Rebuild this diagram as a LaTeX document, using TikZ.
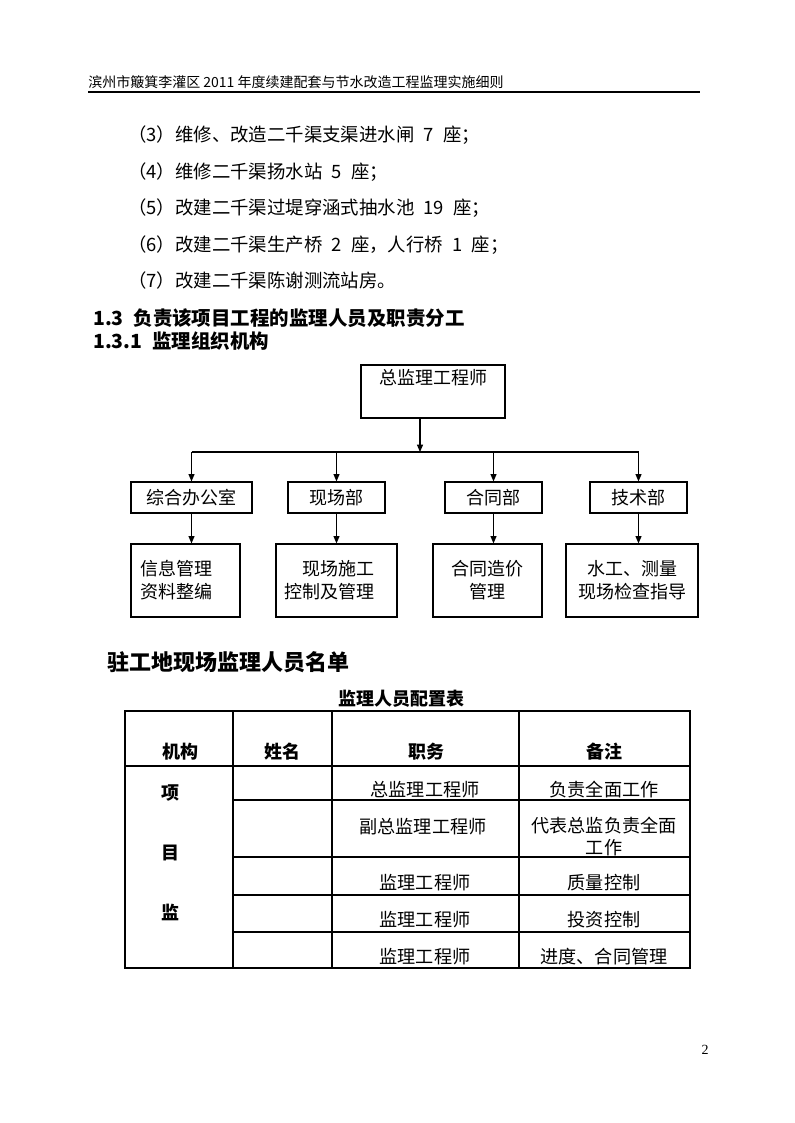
\documentclass[tikz,border=0pt]{standalone}
\usepackage{fontspec}
\setmainfont{Noto Sans CJK SC}
\newfontfamily\pnfont{Liberation Serif}
\usetikzlibrary{arrows.meta, positioning, calc}
\newdimen\pxu \pxu=0.75pt
\tikzset{
  txt/.style      = {inner sep=0pt, font=\fontsize{13.8}{16}\selectfont},
  bodyline/.style = {txt, anchor=west},
  hdline/.style   = {inner sep=0pt, anchor=west, font=\fontsize{14.6}{16}\selectfont\bfseries},
  orgbox/.style   = {draw, line width=0.9pt, inner sep=0pt, font=\fontsize{13.5}{17.25}\selectfont},
  orgarrow/.style = {-{Triangle[length=5.5pt, width=4.5pt]}, line width=0.8pt},
  tabline/.style  = {line width=0.8pt},
  thead/.style    = {inner sep=0pt, font=\fontsize{13.5}{16}\selectfont\bfseries},
  tcell/.style    = {inner sep=0pt, align=center, font=\fontsize{13.6}{16.5}\selectfont},
}

\begin{document}
\begin{tikzpicture}[x=0.75pt, y=-0.75pt]
  \useasboundingbox (0,0) rectangle (794,1123);
  % running head
  \node[inner sep=0pt, anchor=west, font=\fontsize{10.5}{12}\selectfont] (runhead) at (88,82)
    {滨州市簸箕李灌区 2011 年度续建配套与节水改造工程监理实施细则};
  \draw[line width=0.8pt] (88,92) -- (700,92);

  \foreach \y/\t [count=\i from 3] in {135/{（3）维修、改造二千渠支渠进水闸\enspace 7\enspace 座；},
      172/{（4）维修二千渠扬水站\enspace 5\enspace 座；},
      208/{（5）改建二千渠过堤穿涵式抽水池\enspace 19\enspace 座；},
      245/{（6）改建二千渠生产桥\enspace 2\enspace 座，人行桥\enspace 1\enspace 座；},
      281/{（7）改建二千渠陈谢测流站房。}}
    \node[bodyline] (item\i) at (128,\y) {\t};

  \node[hdline] (sec13) at (93,318) {1.3\enspace 负责该项目工程的监理人员及职责分工};
  \node[hdline] (sec131) at (93,341) {1.3.1\enspace 监理组织机构};

  % organisation chart
  \node[orgbox, minimum width=144\pxu, minimum height=53\pxu, text height=12pt, text depth=22pt]
    (zjl) at (433,391.5) {总监理工程师};
  \coordinate (bus) at (420,452);
  \foreach \x/\w/\t [count=\i] in {191.5/121/综合办公室, 336.5/97/现场部, 493.5/97/合同部, 638.5/97/技术部}
    \node[orgbox, minimum width=\w\pxu, minimum height=31\pxu] (dep\i) at (\x,497.5) {\t};
  \node[orgbox, minimum width=109\pxu, minimum height=73\pxu, text width=91\pxu, align=left]
    (job1) at (185.5,580.5) {信息管理\\资料整编};
  \node[orgbox, minimum width=121\pxu, minimum height=73\pxu, text width=105\pxu, align=left]
    (job2) at (336.5,580.5) {\hspace{1em}现场施工\\控制及管理};
  \node[orgbox, minimum width=109\pxu, minimum height=73\pxu, align=center]
    (job3) at (487.5,580.5) {合同造价\\管理};
  \node[orgbox, minimum width=132\pxu, minimum height=73\pxu, align=center]
    (job4) at (632,580.5) {水工、测量\\现场检查指导};

  \draw[orgarrow] (bus |- zjl.south) -- (bus);
  \draw[line width=0.8pt] (dep1.north |- bus) -- (dep4.north |- bus);
  \foreach \i in {1,...,4} {
    \draw[orgarrow] (dep\i.north |- bus) -- (dep\i.north);
    \draw[orgarrow] (dep\i.south) -- (dep\i.south |- job\i.north);
  }

  % staff table
  \node[inner sep=0pt, anchor=west, font=\fontsize{16.5}{18}\selectfont\bfseries] (roster) at (107,662)
    {驻工地现场监理人员名单};
  \node[thead] (tabtitle) at (401,699) {监理人员配置表};
  \draw[tabline] (125,711) rectangle (690,968);
  \draw[tabline] (125,766) -- (690,766);
  \foreach \y in {800,857,895,932} \draw[tabline] (233,\y) -- (690,\y);
  \foreach \x in {233,332,519} \draw[tabline] (\x,711) -- (\x,968);
  \foreach \x/\t [count=\i] in {180/机构, 282/姓名, 426/职务, 604/备注}
    \node[thead] (col\i) at (\x,752) {\t};
  \foreach \y/\t [count=\i] in {793/项, 853/目, 912/监}
    \node[thead] (org\i) at (170,\y) {\t};
  \foreach \y/\a/\b [count=\i] in {790/总监理工程师/负责全面工作, 883/监理工程师/质量控制,
      920/监理工程师/投资控制, 957/监理工程师/{进度、合同管理}} {
    \node[tcell] (duty\i) at (425,\y) {\a};
    \node[tcell] (note\i) at (604,\y) {\b};
  }
  \node[tcell] (duty5) at (423,827) {副总监理工程师};
  \node[tcell] (note5) at (604,836) {代表总监负责全面\\工作};

  \node[inner sep=0pt, font=\pnfont\fontsize{10.5}{12}\selectfont] (pageno) at (705,1050) {2};
\end{tikzpicture}
\end{document}
